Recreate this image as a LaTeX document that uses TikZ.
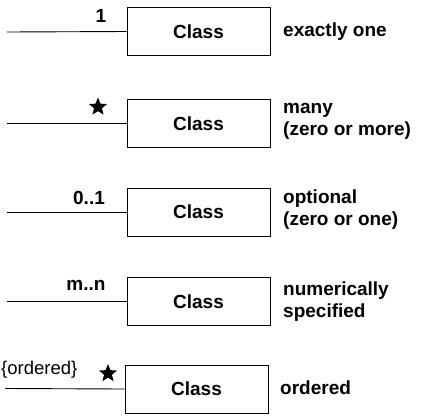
\documentclass[tikz,border=0pt]{standalone}
\usepackage{fontspec}
\setmainfont{Liberation Sans}
\usetikzlibrary{shapes.geometric}
\begin{document}
\begin{tikzpicture}[x=1bp,y=-1bp,
  font=\fontsize{19bp}{22bp}\selectfont\bfseries,
  classbox/.style={draw,line width=0.9bp,minimum width=143bp,minimum height=48bp,inner sep=0pt},
  conn/.style={line width=0.9bp},
  desc/.style={anchor=west,align=left,inner sep=0pt},
  mult/.style={inner sep=0pt},
  starmark/.style={star,star points=5,star point ratio=2.3,fill=black,minimum size=19bp,inner sep=0pt}]
\useasboundingbox (0,0) rectangle (424,416);
% item 1
\node[classbox] (c1) at (198.5,31.5) {Class};
\coordinate (l1) at (7,32);
\draw[conn] (l1) -- (c1.west);
\node[mult] (m1) at (101,15.5) {1};
\node[desc] (d1) at (283,32) {exactly one};
% item 2
\node[classbox] (c2) at (198.5,123.5) {Class};
\coordinate (l2) at (7,123.5);
\draw[conn] (l2) -- (c2.west);
\node[starmark] (m2) at (98,107) {};
\node[desc] (d2) at (283,121) {many\\(zero or more)};
% item 3
\node[classbox] (c3) at (198.5,212) {Class};
\coordinate (l3) at (7,212);
\draw[conn] (l3) -- (c3.west);
\node[mult] (m3) at (89,197.5) {0..1};
\node[desc] (d3) at (283,210) {optional\\(zero or one)};
% item 4
\node[classbox] (c4) at (198.5,301.5) {Class};
\coordinate (l4) at (7,301.5);
\draw[conn] (l4) -- (c4.west);
\node[mult] (m4) at (86,285) {m..n};
\node[desc] (d4) at (283,302) {numerically\\specified};
% item 5
\node[classbox] (c5) at (196.5,389) {Class};
\coordinate (l5) at (5,388.5);
\draw[conn] (l5) -- (c5.west);
\node[starmark] (m5) at (108,373.5) {};
\node[mult,anchor=west,font=\fontsize{18.5bp}{22bp}\selectfont\mdseries] (o5) at (1,370) {\{ordered\}};
\node[desc] (d5) at (280,388) {ordered};
\end{tikzpicture}
\end{document}
